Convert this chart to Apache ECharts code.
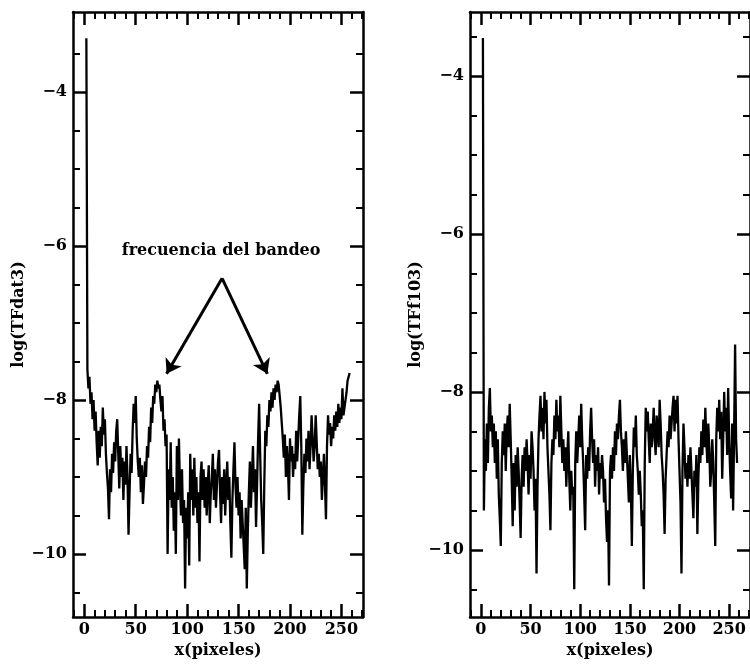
<!DOCTYPE html>
<html>
<head>
<meta charset="utf-8">
<script src="https://cdn.jsdelivr.net/npm/echarts@6/dist/echarts.min.js"></script>
<style>
  html, body { margin: 0; padding: 0; background: #fff; }
  #chart { width: 750px; height: 664px; }
</style>
</head>
<body>
<div id="chart"></div>
<script>
// x (pixel frequency) of the first sample, one sample per pixel after that
var xStart = 2;

// log(TFdat3), left panel
var tfDat3 = [
  -3.3,
  -7.6, -7.85, -7.7, -8.05, -7.9, -8.25, -8.0, -8.4, -8.15, -8.55,
  -8.85, -8.4, -8.75, -8.35, -8.6, -8.1, -8.45, -8.25, -8.7, -8.95,
  -9.15, -9.55, -8.9, -9.2, -8.7, -8.95, -8.55, -8.8, -8.4, -8.25,
  -8.7, -9.15, -8.6, -9.0, -8.75, -9.3, -8.8, -9.1, -8.6, -9.0,
  -9.75, -9.2, -8.7, -8.95, -8.4, -8.05, -8.3, -7.95, -8.5, -8.8,
  -9.0, -8.75, -9.2, -8.85, -9.35, -9.1, -8.8, -9.0, -8.6, -8.75,
  -8.35, -8.55, -8.1, -8.3, -7.95, -8.05, -7.8, -7.9, -7.75, -7.85,
  -7.8, -8.0, -8.15, -7.95, -8.4, -8.25, -8.6, -8.45, -10.0, -8.9,
  -9.3, -8.55, -9.4, -9.0, -9.7, -9.2, -10.0, -8.6, -9.3, -8.5,
  -9.1, -9.5, -8.9, -9.6, -9.3, -10.45, -9.4, -9.8, -9.2, -10.15,
  -8.7, -9.3, -8.9, -9.5, -8.75, -9.4, -9.0, -9.6, -9.2, -10.1,
  -9.0, -8.8, -9.3, -8.9, -9.4, -9.0, -9.5, -9.1, -8.85, -9.6,
  -9.2, -9.0, -8.7, -9.3, -8.9, -9.4, -9.1, -8.8, -8.65, -9.2,
  -9.6, -9.0, -9.35, -8.9, -9.5, -9.1, -8.8, -9.3, -9.0, -9.6,
  -10.05, -9.3, -8.9, -8.55, -9.1, -9.4, -9.0, -9.5, -9.2, -9.8,
  -9.3, -9.6, -9.9, -10.2, -9.4, -10.45, -9.7, -9.2, -8.8, -9.4,
  -9.0, -8.6, -9.2, -8.9, -9.65, -9.1, -8.5, -8.05, -8.7, -9.3,
  -9.6, -10.0, -9.1, -8.4, -8.6, -8.2, -8.35, -8.0, -8.15, -7.9,
  -8.1, -7.85, -8.0, -7.8, -7.9, -7.75, -7.8, -7.95, -8.1, -8.3,
  -8.5, -8.75, -8.45, -9.0, -8.6, -8.85, -9.3, -8.5, -8.8, -8.6,
  -9.0, -8.7, -8.9, -8.4, -8.8, -8.5, -8.2, -7.95, -8.6, -9.75,
  -9.1, -8.7, -8.95, -8.5, -8.8, -8.4, -8.9, -8.6, -8.2, -8.5,
  -8.8, -8.6, -8.2, -8.55, -8.9, -8.7, -9.0, -8.8, -9.3, -9.0,
  -8.7, -9.1, -9.55, -8.6, -8.2, -8.45, -8.3, -8.6, -8.35, -8.5,
  -8.2, -8.4, -8.15, -8.35, -8.05, -8.3, -8.1, -8.25, -7.85, -8.2,
  -8.1, -8.0, -7.9, -7.75, -7.7, -7.65
];

// log(TFf103), right panel
var tfF103 = [
  -3.52,
  -9.5, -8.6, -9.0, -8.4, -8.9, -8.2, -7.95, -8.5, -8.3, -8.7,
  -8.4, -8.9, -8.5, -9.1, -8.6, -9.3, -9.6, -9.95, -8.9, -8.5,
  -8.8, -8.4, -9.0, -8.5, -8.3, -8.7, -8.15, -8.6, -9.1, -9.7,
  -8.9, -9.5, -8.8, -9.2, -8.7, -9.0, -9.4, -9.85, -9.1, -8.8,
  -9.2, -8.7, -9.0, -8.6, -8.9, -9.3, -8.8, -9.1, -8.5, -8.7,
  -9.0, -9.5, -9.1, -10.3, -9.2, -8.6, -8.3, -8.05, -8.5, -8.2,
  -8.6, -8.0, -8.4, -8.1, -8.7, -9.0, -9.3, -9.75, -8.9, -8.6,
  -8.8, -8.3, -8.6, -8.1, -8.5, -8.3, -8.7, -8.05, -8.5, -8.9,
  -8.6, -9.0, -8.7, -9.2, -8.8, -8.5, -9.1, -9.5, -9.0, -9.3,
  -9.2, -10.5, -8.9, -8.5, -8.9, -8.6, -8.3, -8.7, -8.15, -8.6,
  -8.9, -9.3, -9.75, -8.8, -9.1, -8.7, -9.0, -8.5, -8.2, -8.6,
  -8.9, -8.6, -9.2, -8.8, -9.0, -8.7, -9.3, -8.9, -9.1, -8.8,
  -9.0, -9.4, -9.1, -9.6, -9.9, -9.5, -10.45, -9.0, -8.8, -9.1,
  -8.7, -9.0, -8.5, -8.8, -8.4, -8.6, -8.3, -8.1, -8.5, -8.7,
  -9.0, -8.6, -8.9, -8.5, -8.8, -9.1, -9.4, -8.8, -9.2, -9.95,
  -9.0, -8.45, -8.7, -8.3, -8.8, -9.0, -9.3, -9.0, -9.3, -9.7,
  -9.5, -10.5, -8.9, -8.2, -8.5, -8.25, -8.6, -8.9, -8.4, -8.7,
  -8.5, -8.2, -8.6, -8.8, -8.3, -8.5, -8.7, -8.1, -8.4, -8.8,
  -9.0, -9.3, -9.8, -9.1, -8.8, -8.5, -8.7, -8.3, -8.6, -8.4,
  -8.2, -8.05, -8.5, -8.1, -8.4, -8.05, -8.6, -9.0, -9.4, -10.3,
  -9.0, -8.4, -8.7, -9.1, -8.9, -9.2, -8.8, -9.1, -8.7, -9.0,
  -9.3, -9.6, -9.0, -9.2, -8.8, -9.8, -9.1, -8.7, -8.9, -8.5,
  -8.8, -8.35, -8.7, -8.2, -8.6, -8.9, -8.4, -8.7, -9.2, -9.0,
  -8.6, -8.9, -9.4, -9.95, -8.6, -8.2, -8.5, -8.1, -8.6, -8.25,
  -9.1, -8.6, -8.0, -8.5, -8.2, -8.8, -7.95, -8.6, -9.0, -9.35,
  -8.4, -9.5, -8.5, -7.4, -8.6, -8.9
];

// axes
var xRange = [-11, 271];
var xMajorTicks = [0, 50, 100, 150, 200, 250];
var xMinorTicks = [-10, 10, 20, 30, 40, 60, 70, 80, 90, 110, 120, 130, 140,
  160, 170, 180, 190, 210, 220, 230, 240, 260, 270];
var yRangeLeft = [-10.82, -2.96];
var yRangeRight = [-10.85, -3.19];
var yMajorTicks = [-4, -6, -8, -10];
var yMinorTicks = [-3.5, -4.5, -5, -5.5, -6.5, -7, -7.5, -8.5, -9, -9.5, -10.5];
var yNames = ['log(TFdat3)', 'log(TFf103)'];
var xName = 'x(pixeles)';

// annotation on the left panel
var bandeoText = 'frecuencia del bandeo';
var bandeoPos = [133, -6.06];
var arrowApex = [134, -6.42];
var arrowTips = [[80, -7.66], [178, -7.66]];

var FONT = 'DejaVu Serif';
var labelStyle = { color: '#000', fontFamily: FONT, fontWeight: 'bold', fontSize: 16 };

function toPairs(values) {
  return values.map(function (v, i) { return [xStart + i, v]; });
}

function minus(v) {
  return String(v).replace('-', '\u2212');
}

// four x axes per grid: bottom major, bottom minor, top major, top minor
function makeXAxes(g) {
  var out = [];
  ['bottom', 'top'].forEach(function (pos) {
    [true, false].forEach(function (major) {
      var labeled = pos === 'bottom' && major;
      out.push({
        gridIndex: g, type: 'value', position: pos,
        min: xRange[0], max: xRange[1],
        splitLine: { show: false },
        axisLine: { show: major, onZero: false, lineStyle: { color: '#000', width: 2.5 } },
        axisTick: {
          show: true, inside: true, length: major ? 13 : 7,
          customValues: major ? xMajorTicks : xMinorTicks,
          lineStyle: { color: '#000', width: major ? 2.5 : 2 }
        },
        axisLabel: labeled ? Object.assign({ show: true, customValues: xMajorTicks, margin: 5 }, labelStyle) : { show: false },
        name: labeled ? xName : '',
        nameLocation: 'middle', nameGap: 26,
        nameTextStyle: labelStyle
      });
    });
  });
  return out;
}

// four y axes per grid: left major, left minor, right major, right minor
function makeYAxes(g, range) {
  var out = [];
  ['left', 'right'].forEach(function (pos) {
    [true, false].forEach(function (major) {
      var labeled = pos === 'left' && major;
      out.push({
        gridIndex: g, type: 'value', position: pos,
        min: range[0], max: range[1],
        splitLine: { show: false },
        axisLine: { show: major, onZero: false, lineStyle: { color: '#000', width: 2.5 } },
        axisTick: {
          show: true, inside: true, length: major ? 13 : 7,
          customValues: major ? yMajorTicks : yMinorTicks,
          lineStyle: { color: '#000', width: major ? 2.5 : 2 }
        },
        axisLabel: labeled ? Object.assign({ show: true, customValues: yMajorTicks, margin: 6, formatter: minus }, labelStyle) : { show: false },
        name: labeled ? yNames[g] : '',
        nameLocation: 'middle', nameGap: 46,
        nameTextStyle: labelStyle
      });
    });
  });
  return out;
}

var chart = echarts.init(document.getElementById('chart'), null, { renderer: 'canvas' });

chart.setOption({
  animation: false,
  backgroundColor: '#fff',
  grid: [
    { left: 73, top: 12, width: 290, height: 611 },
    { left: 470, top: 12, width: 288, height: 612 }
  ],
  xAxis: makeXAxes(0).concat(makeXAxes(1)),
  yAxis: makeYAxes(0, yRangeLeft).concat(makeYAxes(1, yRangeRight)),
  series: [
    {
      type: 'line', xAxisIndex: 0, yAxisIndex: 0,
      data: toPairs(tfDat3),
      symbol: 'none',
      lineStyle: { color: '#000', width: 2.3 },
      markLine: {
        silent: true,
        symbol: ['none', 'arrow'], symbolSize: 14,
        lineStyle: { color: '#000', width: 3, type: 'solid' },
        label: { show: false },
        data: arrowTips.map(function (t) { return [{ coord: arrowApex }, { coord: t }]; })
      },
      markPoint: {
        silent: true,
        symbol: 'rect', symbolSize: 1,
        itemStyle: { color: 'rgba(0,0,0,0)' },
        label: Object.assign({ show: true, position: 'inside', formatter: bandeoText }, labelStyle),
        data: [{ coord: bandeoPos }]
      }
    },
    {
      type: 'line', xAxisIndex: 4, yAxisIndex: 4,
      data: toPairs(tfF103),
      symbol: 'none',
      lineStyle: { color: '#000', width: 2.3 }
    }
  ]
});
</script>
</body>
</html>
